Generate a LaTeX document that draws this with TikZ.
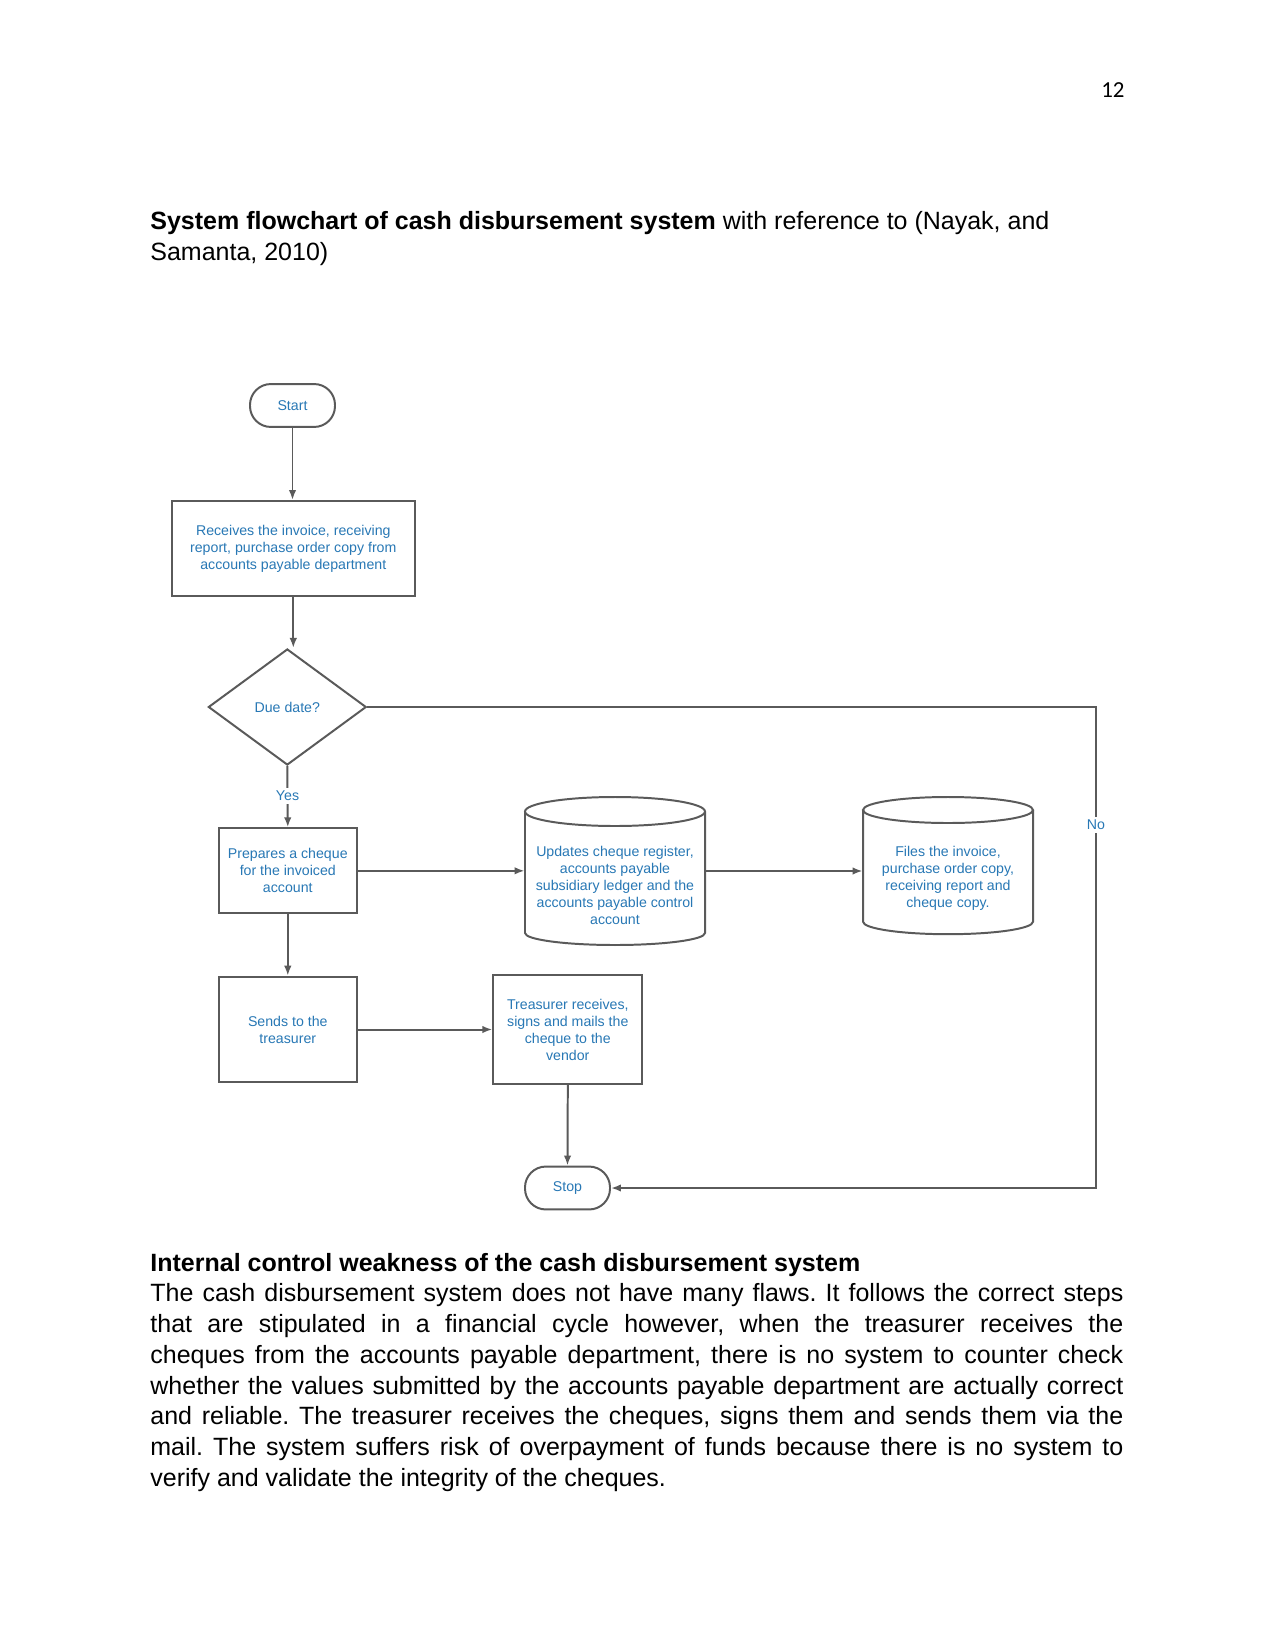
\documentclass[tikz,border=0pt]{standalone}
\usepackage{fontspec}
\setmainfont{Liberation Sans}
\newfontfamily\pagenumfont{Carlito}
\usetikzlibrary{shapes.geometric,arrows.meta}
\definecolor{ink}{HTML}{5A5A5A}
\definecolor{fctext}{HTML}{2878B5}
\frenchspacing
\begin{document}
\begin{tikzpicture}[x=0.48pt,y=-0.48pt,
  flow/.style={font=\fontsize{6.8}{8.16}\selectfont, text=fctext, align=center, inner sep=0pt},
  proc/.style={flow, draw=ink, line width=0.95pt, rectangle},
  term/.style={flow, draw=ink, line width=0.95pt, rectangle, rounded corners=10pt, minimum width=40.8pt, minimum height=20.6pt},
  dec/.style={flow, draw=ink, line width=0.95pt, diamond, minimum width=75.8pt, minimum height=55.7pt},
  conn/.style={draw=ink, line width=0.95pt, -{Latex[length=4.8pt,width=3.6pt]}},
  plainline/.style={draw=ink, line width=0.95pt},
  lbl/.style={flow, fill=white, inner sep=1.5pt},
  anchorbox/.style={inner sep=0pt, draw=none}]
\fill[white] (0,0) rectangle (1275,1651);
\useasboundingbox (0,0) rectangle (1275,1651);

% page number and texts
\node[anchor=base east, inner sep=0pt, font=\pagenumfont\fontsize{11}{13}\selectfont] (pnum) at (1125,97.3) {12};
\node[anchor=base west, inner sep=0pt, font=\fontsize{12}{14.78}\selectfont] (title) at (150,229.3)
  {\parbox[t]{468pt}{\raggedright\textbf{System flowchart of cash disbursement system} with reference to (Nayak, and\\Samanta, 2010)}};

% flowchart nodes
\node[term] (start) at (292.5,405.5) {Start};
\node[proc, minimum width=116.6pt, minimum height=45.6pt] (recv) at (293.3,548.5)
  {Receives the invoice, receiving\\report, purchase order copy from\\accounts payable department};
\node[dec] (due) at (287.3,707) {Due date?};
\node[proc, minimum width=66.1pt, minimum height=40.8pt] (prep) at (287.8,870.8)
  {Prepares a cheque\\for the invoiced\\account};
\node[anchorbox, minimum width=86.4pt, minimum height=71pt] (upd) at (615,871) {};
\node[flow] (updtext) at (615,885)
  {Updates cheque register,\\accounts payable\\subsidiary ledger and the\\accounts payable control\\account};
\node[anchorbox, minimum width=81.6pt, minimum height=65.8pt] (files) at (948,865.5) {};
\node[flow] (filestext) at (948,878.5)
  {Files the invoice,\\purchase order copy,\\receiving report and\\cheque copy.};
\node[proc, minimum width=66.1pt, minimum height=50.7pt] (send) at (287.8,1029.5)
  {Sends to the\\treasurer};
\node[proc, minimum width=71.5pt, minimum height=52.3pt] (treas) at (567.8,1029.5)
  {Treasurer receives,\\signs and mails the\\cheque to the\\vendor};
\node[term] (stop) at (567.5,1188) {Stop};
\coordinate (nocorner) at (1096,707);

% cylinders (storage)
\draw[plainline] (615,811.5) ellipse [x radius=90, y radius=14.5];
\draw[plainline] (525,811.5) -- (525,933) arc[start angle=180, end angle=0, x radius=90, y radius=12] -- (705,811.5);
\draw[plainline] (948,810) ellipse [x radius=85, y radius=13];
\draw[plainline] (863,810) -- (863,921.7) arc[start angle=180, end angle=0, x radius=85, y radius=12.5] -- (1033,810);

% connectors
\draw[conn] (start.south) -- (start.south |- recv.north);
\draw[conn] (recv.south) -- (recv.south |- due.north);
\draw[conn] (due.south) -- node[lbl, pos=0.485] {Yes} (prep.north);
\draw[conn] (prep.east) -- (prep.east -| upd.west);
\draw[conn] (upd.east) -- (upd.east -| files.west);
\draw[conn] (prep.south) -- (send.north);
\draw[conn] (send.east) -- (treas.west);
\draw[conn] (treas.south) -- (stop.north);
\draw[conn] (due.east) -- (nocorner) -- node[lbl, pos=0.245] {No} (nocorner |- stop.east) -- (stop.east);

% body text
\node[anchor=base west, inner sep=0pt, font=\fontsize{12}{14.78}\selectfont] (body) at (150,1271)
  {\parbox[t]{467pt}{\setlength\parindent{0pt}\textbf{Internal control weakness of the cash disbursement system}\par
\hbox to\linewidth{The cash disbursement system does not have many flaws. It follows the correct steps}
\hbox to\linewidth{that are stipulated in a financial cycle however, when the treasurer receives the}
\hbox to\linewidth{cheques from the accounts payable department, there is no system to counter check}
\hbox to\linewidth{whether the values submitted by the accounts payable department are actually correct}
\hbox to\linewidth{and reliable. The treasurer receives the cheques, signs them and sends them via the}
\hbox to\linewidth{mail. The system suffers risk of overpayment of funds because there is no system to}
verify and validate the integrity of the cheques.}};
\end{tikzpicture}
\end{document}
